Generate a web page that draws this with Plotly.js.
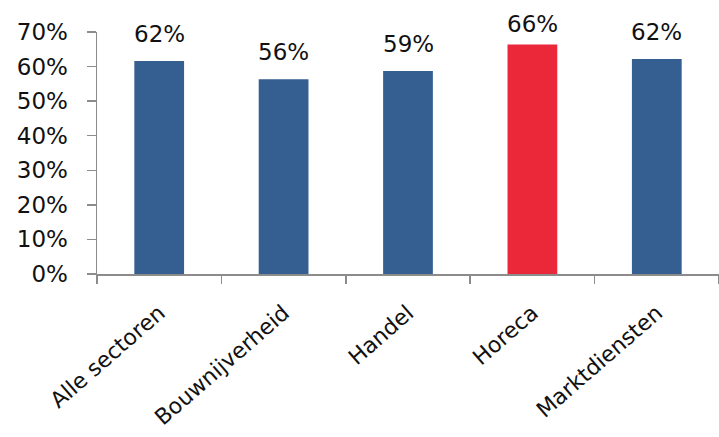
<!DOCTYPE html>
<html>
<head>
<meta charset="utf-8">
<script src="https://cdn.plot.ly/plotly-3.0.1.min.js"></script>
<style>html,body{margin:0;padding:0;background:#fff;}#chart{width:719px;height:437px;}</style>
</head>
<body>
<div id="chart"></div>
<script>
var categories = ["Alle sectoren", "Bouwnijverheid", "Handel", "Horeca", "Marktdiensten"];
var values = [61.6, 56.3, 58.7, 66.4, 62.2];
var barColors = ["#355E91", "#355E91", "#355E91", "#EA2839", "#355E91"];
var yTickValues = [0, 10, 20, 30, 40, 50, 60, 70];
var yTickLabels = ["0%", "10%", "20%", "30%", "40%", "50%", "60%", "70%"];

var fontFamily = "DejaVu Sans, sans-serif";
var yMax = 70;
var marginTop = 32, marginBottom = 163, chartHeight = 437;
var plotHeight = chartHeight - marginTop - marginBottom;

var trace = {
  type: "bar",
  x: categories,
  y: values,
  marker: {color: barColors, line: {width: 0}},
  hoverinfo: "none"
};

// Labels sit above the bars; like the original, they are kept from running into the top edge.
var baseShift = 12, labelGap = 27.5, minLabelCenter = 23.5;
var annotations = categories.map(function (c, i) {
  var barTopPx = marginTop + (yMax - values[i]) / yMax * plotHeight;
  var deficit = Math.max(0, minLabelCenter - (barTopPx - labelGap));
  return {
    x: c, y: values[i], xref: "x", yref: "y",
    text: Math.round(values[i]) + "%",
    showarrow: false, yanchor: "bottom", yshift: baseShift - deficit,
    font: {family: fontFamily, size: 23, color: "#111111"}
  };
});

var layout = {
  width: 719, height: chartHeight,
  margin: {l: 97, r: 0, t: marginTop, b: marginBottom, pad: 0},
  paper_bgcolor: "#ffffff", plot_bgcolor: "#ffffff",
  showlegend: false,
  bargap: 0.6,
  font: {family: fontFamily, color: "#111111"},
  xaxis: {
    type: "category",
    showline: true, linecolor: "#8c8c8c", linewidth: 1.5,
    ticks: "outside", ticklen: 8, tickcolor: "#8c8c8c", tickwidth: 1.5,
    tickson: "boundaries",
    tickangle: -41,
    ticklabelstandoff: 16,
    tickfont: {family: fontFamily, size: 22, color: "#111111"},
    showgrid: false, zeroline: false
  },
  yaxis: {
    range: [0, yMax],
    tickvals: yTickValues,
    ticktext: yTickLabels,
    showline: true, linecolor: "#8c8c8c", linewidth: 1.5,
    ticks: "outside", ticklen: 9, tickcolor: "#8c8c8c", tickwidth: 1.5,
    ticklabelstandoff: 14,
    tickfont: {family: fontFamily, size: 23, color: "#111111"},
    showgrid: false, zeroline: false
  },
  annotations: annotations
};

Plotly.newPlot("chart", [trace], layout, {displayModeBar: false, staticPlot: true});
</script>
</body>
</html>
